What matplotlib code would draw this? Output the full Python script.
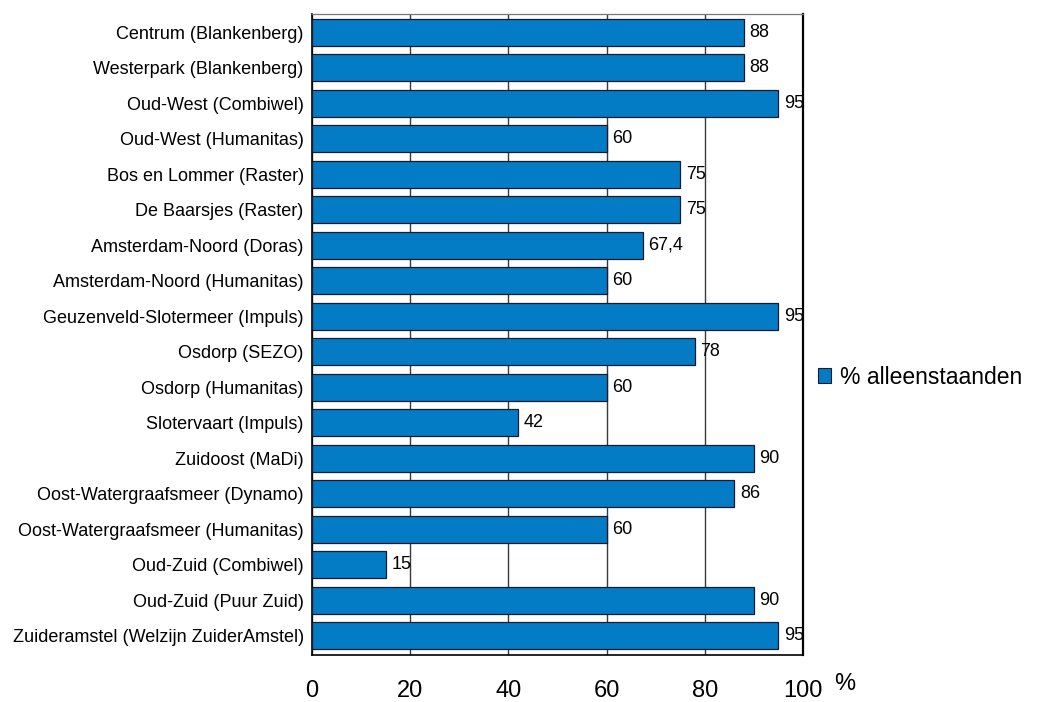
import matplotlib
matplotlib.use("Agg")
import matplotlib.pyplot as plt
from matplotlib.patches import Patch

plt.rcParams['font.family'] = ['Liberation Sans', 'DejaVu Sans']

categories = [
    "Centrum (Blankenberg)",
    "Westerpark (Blankenberg)",
    "Oud-West (Combiwel)",
    "Oud-West (Humanitas)",
    "Bos en Lommer (Raster)",
    "De Baarsjes (Raster)",
    "Amsterdam-Noord (Doras)",
    "Amsterdam-Noord (Humanitas)",
    "Geuzenveld-Slotermeer (Impuls)",
    "Osdorp (SEZO)",
    "Osdorp (Humanitas)",
    "Slotervaart (Impuls)",
    "Zuidoost (MaDi)",
    "Oost-Watergraafsmeer (Dynamo)",
    "Oost-Watergraafsmeer (Humanitas)",
    "Oud-Zuid (Combiwel)",
    "Oud-Zuid (Puur Zuid)",
    "Zuideramstel (Welzijn ZuiderAmstel)",
]
values = [88, 88, 95, 60, 75, 75, 67.4, 60, 95, 78, 60, 42, 90, 86, 60, 15, 90, 95]
x_ticks = [0, 20, 40, 60, 80, 100]
series_name = "% alleenstaanden"

bar_color = "#037CC5"

fig = plt.figure(figsize=(10.41, 7.02), dpi=100)
ax = fig.add_axes([312 / 1041, 1 - 655 / 702, (803 - 312) / 1041, (655 - 14) / 702])

pos = list(range(len(categories)))
ax.barh(pos, values, height=0.76, color=bar_color, edgecolor="#1a1a2e",
        linewidth=0.9, zorder=3)

for p, v in zip(pos, values):
    label = f"{v:g}".replace(".", ",")
    ax.annotate(label, xy=(v, p), xytext=(4, 0), textcoords="offset points",
                ha="left", va="center", fontsize=13, color="black", zorder=4)

ax.set_xlim(0, 100)
ax.set_ylim(len(categories) - 0.5 + 0.04, -0.5 - 0.02)
ax.set_xticks(x_ticks)
ax.set_xticklabels([str(t) for t in x_ticks], fontsize=17)
ax.set_yticks(pos)
ax.set_yticklabels(categories, fontsize=13)
ax.tick_params(axis="x", length=0, pad=18)
ax.tick_params(axis="y", length=0, pad=6)

ax.grid(axis="x", color="#3a3a3a", linewidth=1.0, zorder=1)
ax.set_axisbelow(True)

for side in ["left", "bottom", "right"]:
    ax.spines[side].set_color("black")
    ax.spines[side].set_linewidth(1.2)
ax.spines["right"].set_linewidth(1.6)
ax.spines["top"].set_color("#777777")
ax.spines["top"].set_linewidth(0.9)

fig.text(845 / 1041, 1 - 684 / 702, "%", fontsize=17, ha="center", va="center")

handle = Patch(facecolor=bar_color, edgecolor="#1a1a2e", linewidth=0.8)
fig.legend([handle], [series_name], loc="center left",
           bbox_to_anchor=(818 / 1041, 1 - 377 / 702), frameon=False,
           fontsize=16.5, handlelength=0.55, handleheight=0.62,
           handletextpad=0.4, borderpad=0, borderaxespad=0)

fig.savefig("out.png", dpi=100, facecolor="white")
